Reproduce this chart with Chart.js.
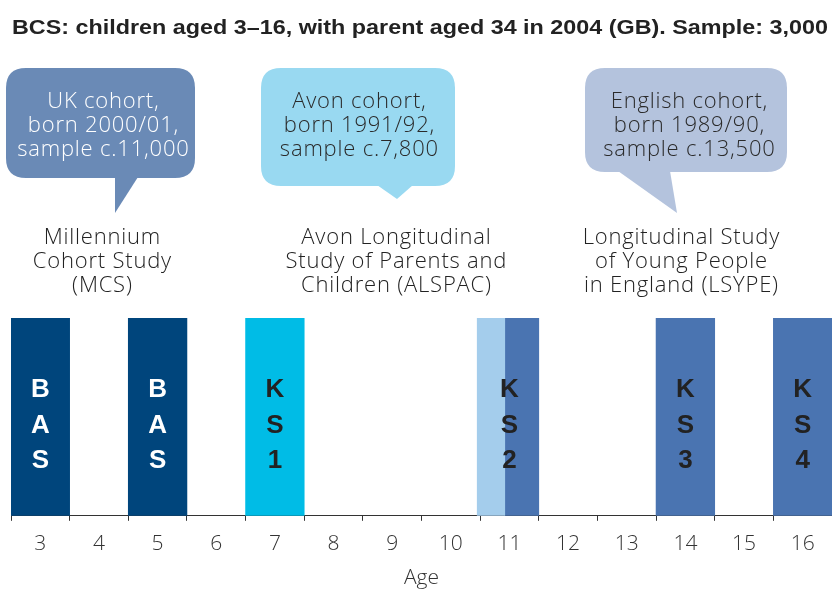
<!DOCTYPE html>
<html>
<head>
<meta charset="utf-8">
<script src="https://cdn.jsdelivr.net/npm/chart.js@4"></script>
<style>
  body { margin: 0; background: #fff; }
  #wrap { width: 832px; height: 589px; }
</style>
</head>
<body>
<div id="wrap"><canvas id="myChart"></canvas></div>
<script>
	var titleText = 'BCS: children aged 3\u201316, with parent aged 34 in 2004 (GB). Sample: 3,000';
	var ages = [3, 4, 5, 6, 7, 8, 9, 10, 11, 12, 13, 14, 15, 16];

	// survey sweeps, one bar each (start / end in years of age)
	var barStart = [2.5, 4.5, 6.5, 10.45, 10.92, 13.5, 15.5];
	var barEnd   = [3.5, 5.5, 7.5, 10.92, 11.5, 14.5, 16.5];
	var barColor = ['#00457c', '#00457c', '#00bce6', '#a4cdec', '#4a74b1', '#4a74b1', '#4a74b1'];

	// text written in the bars
	var labelAge  = [3, 5, 7, 11, 14, 16];
	var labelText = ['BAS', 'BAS', 'KS1', 'KS2', 'KS3', 'KS4'];
	var labelInk  = ['#ffffff', '#ffffff', '#222222', '#222222', '#222222', '#222222'];

	// cohort call-outs
	var bubbleText = [
		['UK cohort,', 'born 2000/01,', 'sample c.11,000'],
		['Avon cohort,', 'born 1991/92,', 'sample c.7,800'],
		['English cohort,', 'born 1989/90,', 'sample c.13,500']
	];
	var studyText = [
		['Millennium', 'Cohort Study', '(MCS)'],
		['Avon Longitudinal', 'Study of Parents and', 'Children (ALSPAC)'],
		['Longitudinal Study', 'of Young People', 'in England (LSYPE)']
	];

	var FONT = '"Liberation Sans", Arial, sans-serif';
	var LIGHT = '"Open Sans", "Liberation Sans", sans-serif';

	// bubble shapes (pixels): box and tail
	var bubbleBox = [
		{x: 6, y: 68, w: 189, h: 110, fill: '#6a8ab6', ink: '#ffffff', tx: 103,
		 tail: [[115, 177], [138, 177], [115, 213]]},
		{x: 261, y: 68, w: 194, h: 118, fill: '#99d9f1', ink: '#2a2a2a', tx: 359,
		 tail: [[377, 185], [413, 185], [397, 199]]},
		{x: 585, y: 68, w: 202, h: 104, fill: '#b4c3dd', ink: '#2a2a2a', tx: 689,
		 tail: [[618, 171], [670, 171], [677, 213]]}
	];
	var studyX = [102, 396, 681];

	function roundRect(ctx, x, y, w, h, r) {
		ctx.beginPath();
		ctx.moveTo(x + r, y);
		ctx.lineTo(x + w - r, y);
		ctx.quadraticCurveTo(x + w, y, x + w, y + r);
		ctx.lineTo(x + w, y + h - r);
		ctx.quadraticCurveTo(x + w, y + h, x + w - r, y + h);
		ctx.lineTo(x + r, y + h);
		ctx.quadraticCurveTo(x, y + h, x, y + h - r);
		ctx.lineTo(x, y + r);
		ctx.quadraticCurveTo(x, y, x + r, y);
		ctx.closePath();
	}

	// centred text with the slightly loose tracking of the source
	function spacedText(ctx, s, x, y) {
		ctx.letterSpacing = '0.8px';
		ctx.fillText(s, x + 0.4, y);
		ctx.letterSpacing = '0px';
	}

	var decorations = {
		id: 'decorations',
		afterDraw: function(chart) {
			var ctx = chart.ctx;
			var xs = chart.scales.x;
			ctx.save();

			// title, stretched to the width it has in the source
			ctx.fillStyle = '#222';
			ctx.font = 'bold 21px ' + FONT;
			ctx.textAlign = 'left';
			ctx.textBaseline = 'middle';
			var tw = ctx.measureText(titleText).width;
			ctx.save();
			ctx.translate(12, 28);
			ctx.scale(816 / tw, 1);
			ctx.fillText(titleText, 0, 0);
			ctx.restore();

			// call-out bubbles
			for (var i = 0; i < bubbleBox.length; i++) {
				var b = bubbleBox[i];
				ctx.fillStyle = b.fill;
				roundRect(ctx, b.x, b.y, b.w, b.h, 20);
				ctx.fill();
				ctx.beginPath();
				ctx.moveTo(b.tail[0][0], b.tail[0][1]);
				ctx.lineTo(b.tail[1][0], b.tail[1][1]);
				ctx.lineTo(b.tail[2][0], b.tail[2][1]);
				ctx.closePath();
				ctx.fill();

				ctx.fillStyle = b.ink;
				ctx.font = '300 22px ' + LIGHT;
				ctx.textAlign = 'center';
				for (var k = 0; k < bubbleText[i].length; k++) {
					spacedText(ctx, bubbleText[i][k], b.tx, 102 + k * 24);
				}
				ctx.fillStyle = '#222';
				for (var k = 0; k < studyText[i].length; k++) {
					spacedText(ctx, studyText[i][k], studyX[i], 238 + k * 24);
				}
			}

			// letters down the bars
			ctx.font = 'bold 26px ' + FONT;
			ctx.textAlign = 'center';
			for (var i = 0; i < labelText.length; i++) {
				var px = xs.getPixelForValue(labelAge[i]);
				ctx.fillStyle = labelInk[i];
				for (var k = 0; k < labelText[i].length; k++) {
					ctx.fillText(labelText[i][k], px, 390 + k * 35.5);
				}
			}
			ctx.restore();
		}
	};

	var datasets = [];
	for (var i = 0; i < barStart.length; i++) {
		datasets.push({
			data: [[barStart[i], barEnd[i]]],
			backgroundColor: barColor[i],
			borderWidth: 0,
			grouped: false,
			barPercentage: 1,
			categoryPercentage: 1
		});
	}

	var config = {
		type: 'bar',
		data: { labels: ['sweeps'], datasets: datasets },
		plugins: [decorations],
		options: {
			indexAxis: 'y',
			responsive: true,
			maintainAspectRatio: false,
			animation: false,
			layout: { padding: { top: 318, left: 11, right: 0, bottom: 0 } },
			plugins: {
				legend: { display: false },
				tooltip: { enabled: false }
			},
			scales: {
				x: {
					type: 'linear',
					min: 2.5,
					max: 16.5,
					afterBuildTicks: function(scale) {
						var t = [];
						for (var v = 2.5; v <= 16.5; v += 0.5) t.push({value: v});
						scale.ticks = t;
					},
					afterFit: function(scale) {
						scale.paddingLeft = 0;
						scale.paddingRight = 0;
					},
					ticks: {
						autoSkip: false,
						maxRotation: 0,
						padding: 11,
						color: '#333',
						font: { family: LIGHT, size: 21, weight: '300' },
						callback: function(v) {
							return ages.indexOf(v) >= 0 ? String(v) : '';
						}
					},
					grid: {
						drawOnChartArea: false,
						drawTicks: true,
						tickLength: 5,
						color: function(c) {
							return (c.tick && c.tick.value % 1 !== 0) ? '#333' : 'rgba(0,0,0,0)';
						}
					},
					border: { display: true, color: '#333', width: 1 },
					title: {
						display: true,
						text: 'Age',
						color: '#333',
						font: { family: LIGHT, size: 21, weight: '300', lineHeight: 1 },
						padding: { top: 0, bottom: 0 }
					}
				},
				y: {
					ticks: { display: false },
					grid: { display: false },
					border: { display: true, color: '#555', width: 1 },
					afterFit: function(scale) { scale.width = 0; }
				}
			}
		}
	};

	var myChart = new Chart(document.getElementById('myChart'), config);
</script>
</body>
</html>
